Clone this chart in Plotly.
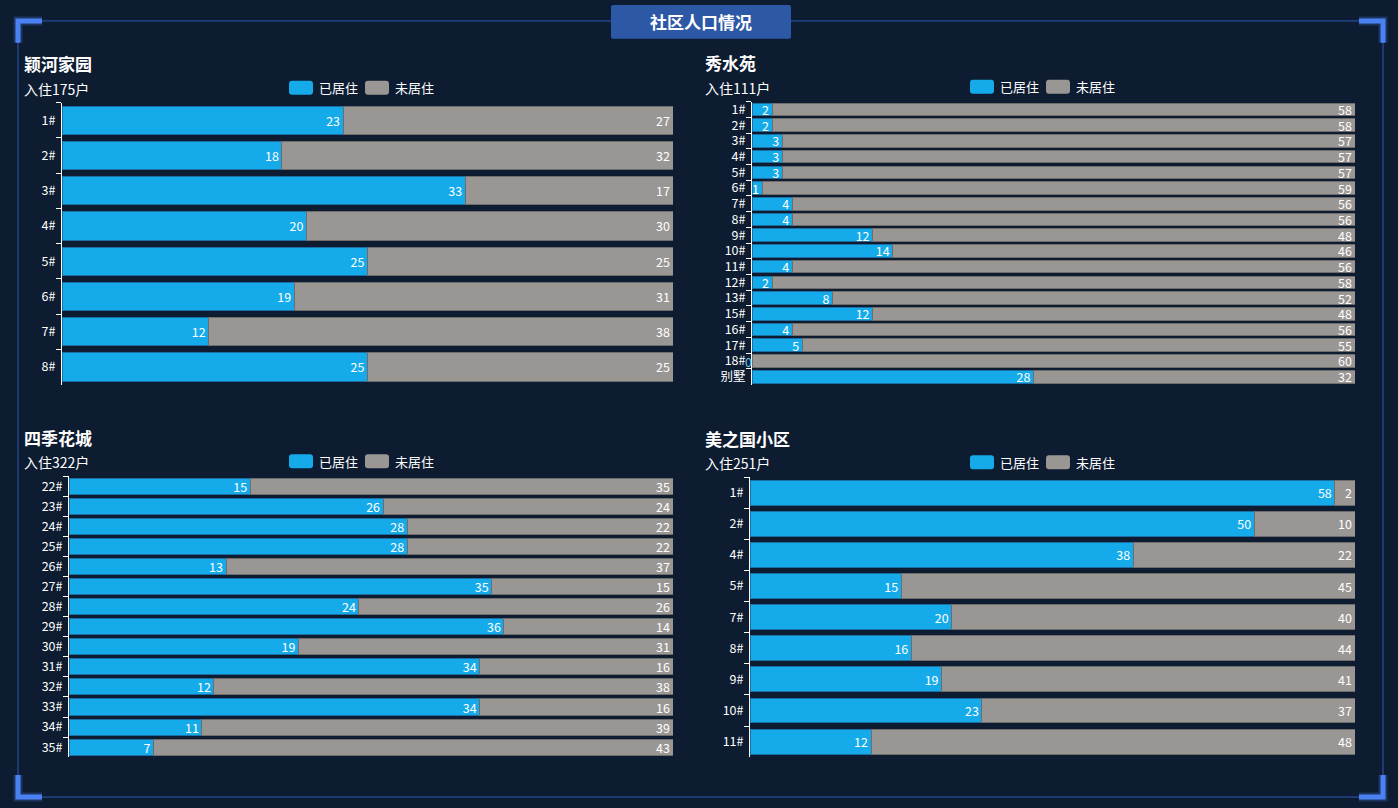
import plotly.graph_objects as go

W, H = 1398, 808

# 颖河家园
yh_buildings = ["1#", "2#", "3#", "4#", "5#", "6#", "7#", "8#"]
yh_living = [23, 18, 33, 20, 25, 19, 12, 25]
yh_vacant = [27, 32, 17, 30, 25, 31, 38, 25]

# 秀水苑
xs_buildings = ["1#", "2#", "3#", "4#", "5#", "6#", "7#", "8#", "9#", "10#",
                "11#", "12#", "13#", "15#", "16#", "17#", "18#", "别墅"]
xs_living = [2, 2, 3, 3, 3, 1, 4, 4, 12, 14, 4, 2, 8, 12, 4, 5, 0, 28]
xs_vacant = [58, 58, 57, 57, 57, 59, 56, 56, 48, 46, 56, 58, 52, 48, 56, 55, 60, 32]

# 四季花城
sj_buildings = ["22#", "23#", "24#", "25#", "26#", "27#", "28#", "29#",
                "30#", "31#", "32#", "33#", "34#", "35#"]
sj_living = [15, 26, 28, 28, 13, 35, 24, 36, 19, 34, 12, 34, 11, 7]
sj_vacant = [35, 24, 22, 22, 37, 15, 26, 14, 31, 16, 38, 16, 39, 43]

# 美之国小区
mz_buildings = ["1#", "2#", "4#", "5#", "7#", "8#", "9#", "10#", "11#"]
mz_living = [58, 50, 38, 15, 20, 16, 19, 23, 12]
mz_vacant = [2, 10, 22, 45, 40, 44, 41, 37, 48]

BG = "#0d1c30"
BLUE = "#15abeb"
GREY = "#9a9694"
FONT = "Noto Sans CJK SC"

# name, data, plot area in px (x0, x1, y0, y1), title x, legend x
panels = [
    ("颖河家园", yh_buildings, yh_living, yh_vacant, (62, 673, 100, 383), 22, 289),
    ("秀水苑", xs_buildings, xs_living, xs_vacant, (752, 1355, 99, 383), 703, 970),
    ("四季花城", sj_buildings, sj_living, sj_vacant, (69, 673, 475, 757), 22, 289),
    ("美之国小区", mz_buildings, mz_living, mz_vacant, (750, 1355, 476, 757), 703, 970),
]


def px_x(v):
    return v / W


def px_y(v):
    return 1 - v / H


def rounded_rect(x0, y0, x1, y1, r=3):
    # pixel coords -> paper path with rounded corners
    pts = [
        "M %f,%f" % (px_x(x0 + r), px_y(y0)),
        "L %f,%f" % (px_x(x1 - r), px_y(y0)),
        "Q %f,%f %f,%f" % (px_x(x1), px_y(y0), px_x(x1), px_y(y0 + r)),
        "L %f,%f" % (px_x(x1), px_y(y1 - r)),
        "Q %f,%f %f,%f" % (px_x(x1), px_y(y1), px_x(x1 - r), px_y(y1)),
        "L %f,%f" % (px_x(x0 + r), px_y(y1)),
        "Q %f,%f %f,%f" % (px_x(x0), px_y(y1), px_x(x0), px_y(y1 - r)),
        "L %f,%f" % (px_x(x0), px_y(y0 + r)),
        "Q %f,%f %f,%f" % (px_x(x0), px_y(y0), px_x(x0 + r), px_y(y0)),
        "Z",
    ]
    return " ".join(pts)


fig = go.Figure()
layout = dict(
    width=W, height=H, autosize=False,
    margin=dict(l=0, r=0, t=0, b=0),
    paper_bgcolor=BG, plot_bgcolor=BG,
    showlegend=False,
    barmode="stack",
    bargap=0.2,
    font=dict(family=FONT, color="#ffffff", size=12),
)
shapes = []
annotations = []

for i, (name, cats, living, vacant, box, tx, lx) in enumerate(panels):
    n = "" if i == 0 else str(i + 1)
    x0, x1, y0, y1 = box
    total = living[0] + vacant[0]

    for vals, color, line in ((living, BLUE, "#1d6fa3"), (vacant, GREY, "#6f6d6c")):
        fig.add_trace(go.Bar(
            x=vals, y=cats, orientation="h",
            xaxis="x" + n, yaxis="y" + n,
            marker=dict(color=color, line=dict(color=line, width=1)),
            text=[str(v) if v > 0 else "" for v in vals],
            textposition="inside", insidetextanchor="end",
            textangle=0, constraintext="none",
            textfont=dict(color="#ffffff", size=12.5, family=FONT),
            cliponaxis=False,
        ))
    # zero value label like the original
    for c, v in zip(cats, living):
        if v == 0:
            annotations.append(dict(
                x=0, y=c, xref="x" + n, yref="y" + n, text="0",
                showarrow=False, xanchor="right", yanchor="middle", xshift=2,
                font=dict(color="#5cc8f5", size=12.5, family=FONT)))

    layout["xaxis" + n] = dict(
        domain=[px_x(x0), px_x(x1)], range=[0, total],
        anchor="y" + n, visible=False, fixedrange=True)
    layout["yaxis" + n] = dict(
        domain=[px_y(y1), px_y(y0)], anchor="x" + n,
        type="category", autorange="reversed", fixedrange=True,
        showline=True, linecolor="#ffffff", linewidth=1,
        ticks="outside", ticklen=5, tickcolor="#ffffff", tickson="boundaries",
        showgrid=False, zeroline=False,
        tickfont=dict(color="#ffffff", size=12.5, family=FONT),
        ticklabelstandoff=3,
    )

    # titles
    annotations.append(dict(
        x=px_x(tx), y=px_y(y0 - 39), xref="paper", yref="paper",
        text="<b>%s</b>" % name, showarrow=False, xanchor="left", yanchor="middle",
        font=dict(size=17, color="#ffffff", family=FONT)))
    annotations.append(dict(
        x=px_x(tx), y=px_y(y0 - 14), xref="paper", yref="paper",
        text="入住%d户" % sum(living), showarrow=False, xanchor="left", yanchor="middle",
        font=dict(size=14, color="#ffffff", family=FONT)))

    # legend swatches
    ly = y0 - 15
    for k, (label, color) in enumerate((("已居住", BLUE), ("未居住", GREY))):
        sx = lx + k * 76
        shapes.append(dict(
            type="path", xref="paper", yref="paper",
            path=rounded_rect(sx, ly - 7, sx + 24, ly + 7),
            fillcolor=color, line=dict(width=0)))
        annotations.append(dict(
            x=px_x(sx + 28), y=px_y(ly), xref="paper", yref="paper",
            text=label, showarrow=False, xanchor="left", yanchor="middle",
            font=dict(size=13, color="#ffffff", family=FONT)))

# frame
FRAME = "#2c5bb6"
for a, b, c, d in ((18, 18, 611, 18), (791, 18, 1383, 18), (18, 797, 1383, 797),
                   (18, 18, 18, 797), (1383, 18, 1383, 797)):
    shapes.append(dict(type="line", xref="paper", yref="paper",
                       x0=px_x(a), y0=px_y(b), x1=px_x(c), y1=px_y(d),
                       line=dict(color=FRAME, width=1)))

# corner brackets
CORNER = "#4a82f4"
for cx, cy, dx, dy in ((16, 16, 1, 1), (1385, 16, -1, 1), (16, 799, 1, -1), (1385, 799, -1, -1)):
    for glow, col in ((9, "rgba(74,130,244,0.25)"), (5, CORNER)):
        path = "M %f,%f L %f,%f L %f,%f" % (
            px_x(cx + dx * 26), px_y(cy + dy * 2),
            px_x(cx + dx * 2), px_y(cy + dy * 2),
            px_x(cx + dx * 2), px_y(cy + dy * 24))
        shapes.append(dict(type="path", xref="paper", yref="paper", path=path,
                           line=dict(color=col, width=glow)))

# title box
shapes.append(dict(type="path", xref="paper", yref="paper",
                   path=rounded_rect(611, 2, 791, 36, 2),
                   fillcolor="#2c58a5", line=dict(width=0)))
annotations.append(dict(x=px_x(701), y=px_y(19), xref="paper", yref="paper",
                        text="<b>社区人口情况</b>", showarrow=False,
                        xanchor="center", yanchor="middle",
                        font=dict(size=17, color="#ffffff", family=FONT)))

layout["shapes"] = shapes
layout["annotations"] = annotations
fig.update_layout(**layout)

fig.write_html("out.html", config={"displayModeBar": False},
               post_script="document.body.style.margin='0';"
               "document.body.style.background='%s';" % BG)
